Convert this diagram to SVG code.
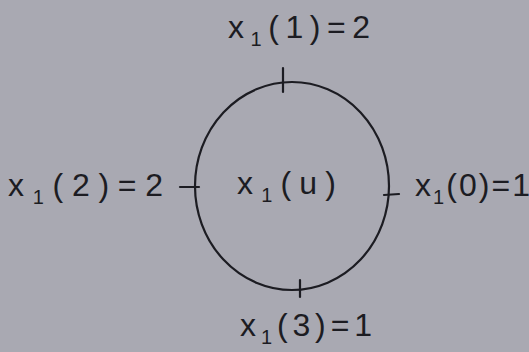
<svg xmlns="http://www.w3.org/2000/svg" width="529" height="352" viewBox="0 0 529 352">
<style>
.lbl{font-family:"Liberation Sans","DejaVu Sans",sans-serif;font-size:32px;fill:#1c1c22}
.sub{font-size:20px}
.stroke{fill:none;stroke:#1c1c22;stroke-width:2.2;stroke-linecap:round}
</style>
<rect width="529" height="352" fill="#a9a9b2"/>
<g id="center">
<ellipse class="stroke" cx="292" cy="186" rx="97" ry="104"/>
<text class="lbl" x="237" y="194" textLength="99" lengthAdjust="spacing">x<tspan class="sub" dy="8">1</tspan><tspan dy="-8">(u)</tspan></text>
</g>
<g id="connectors">
<line class="stroke" x1="283" y1="68" x2="283" y2="92"/>
<line class="stroke" x1="180" y1="187" x2="199" y2="187"/>
<line class="stroke" x1="384" y1="195" x2="399" y2="194"/>
<line class="stroke" x1="300" y1="280" x2="300" y2="297"/>
</g>
<g id="top">
<text class="lbl" x="228" y="38" textLength="142" lengthAdjust="spacing">x<tspan class="sub" dy="8">1</tspan><tspan dy="-8">(1)=2</tspan></text>
</g>
<g id="left">
<text class="lbl" x="8" y="196" textLength="155" lengthAdjust="spacing">x<tspan class="sub" dy="8">1</tspan><tspan dy="-8">(2)=2</tspan></text>
</g>
<g id="right">
<text class="lbl" x="415" y="196" textLength="115" lengthAdjust="spacing">x<tspan class="sub" dy="8">1</tspan><tspan dy="-8">(0)=1</tspan></text>
</g>
<g id="bottom">
<text class="lbl" x="240" y="336" textLength="132" lengthAdjust="spacing">x<tspan class="sub" dy="8">1</tspan><tspan dy="-8">(3)=1</tspan></text>
</g>
</svg>
